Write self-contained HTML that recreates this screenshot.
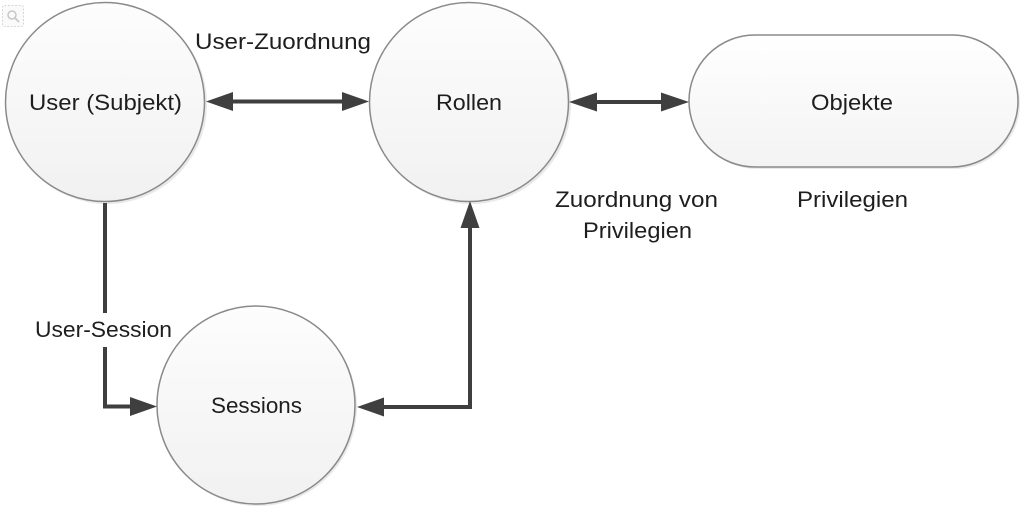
<!DOCTYPE html>
<html>
<head>
<meta charset="utf-8">
<style>
  html, body { margin: 0; padding: 0; background: #ffffff; }
  body { width: 1024px; height: 519px; overflow: hidden; }
  svg { display: block; }
  text { font-family: "Liberation Sans", "DejaVu Sans", sans-serif; fill: #1e1e1e; font-size: 22px; }
</style>
</head>
<body>
<svg width="1024" height="519" viewBox="0 0 1024 519" xmlns="http://www.w3.org/2000/svg">
  <defs>
    <linearGradient id="g" x1="0" y1="0" x2="0" y2="1">
      <stop offset="0" stop-color="#fdfdfd"/>
      <stop offset="1" stop-color="#f1f1f1"/>
    </linearGradient>
    <linearGradient id="g2" x1="0" y1="0" x2="0" y2="1">
      <stop offset="0" stop-color="#ffffff"/>
      <stop offset="1" stop-color="#f3f3f3"/>
    </linearGradient>
  </defs>

  <!-- magnifier icon -->
  <rect x="2.5" y="5.5" width="21" height="21" rx="2" fill="#fafafa" stroke="#d6d6d6" stroke-dasharray="2 1.5"/>
  <circle cx="12" cy="15" r="4" fill="none" stroke="#c8c8c8" stroke-width="1.5"/>
  <line x1="15" y1="18" x2="19" y2="22" stroke="#c8c8c8" stroke-width="1.8"/>

  <!-- shadows -->
  <circle cx="107" cy="104" r="100" fill="#e9e9e9"/>
  <circle cx="471" cy="104" r="100" fill="#e9e9e9"/>
  <circle cx="258" cy="407" r="99" fill="#e9e9e9"/>
  <rect x="691" y="37" width="329" height="132" rx="66" ry="66" fill="#e9e9e9"/>

  <!-- nodes -->
  <circle cx="105" cy="102" r="99.5" fill="url(#g)" stroke="#8a8a8a" stroke-width="1.5"/>
  <circle cx="469" cy="102" r="99.5" fill="url(#g)" stroke="#8a8a8a" stroke-width="1.5"/>
  <circle cx="256" cy="405" r="99" fill="url(#g)" stroke="#8a8a8a" stroke-width="1.5"/>
  <rect x="689" y="35" width="329" height="132" rx="66" ry="66" fill="url(#g2)" stroke="#8a8a8a" stroke-width="1.5"/>

  <!-- connectors -->
  <g stroke="#3f3f3f" stroke-width="4" fill="none">
    <line x1="230" y1="101.5" x2="345" y2="101.5"/>
    <line x1="594" y1="102" x2="664" y2="102"/>
    <polyline points="105,203 105,313"/>
    <polyline points="105,347 105,406.5 133,406.5"/>
    <polyline points="381,407 470,407 470,226"/>
  </g>
  <g fill="#3f3f3f">
    <polygon points="206,101.5 233,92 233,111"/>
    <polygon points="369,101.5 342,92 342,111"/>
    <polygon points="569,102 597,92.5 597,111.5"/>
    <polygon points="689,102 661,92.5 661,111.5"/>
    <polygon points="157,406.5 130,397 130,416"/>
    <polygon points="357,407 384,397.5 384,416.5"/>
    <polygon points="470,201 460.5,228 479.5,228"/>
  </g>

  <!-- labels -->
  <text x="29" y="110" textLength="153" lengthAdjust="spacingAndGlyphs">User (Subjekt)</text>
  <text x="436" y="110" textLength="66" lengthAdjust="spacingAndGlyphs">Rollen</text>
  <text x="811" y="110" textLength="82" lengthAdjust="spacingAndGlyphs">Objekte</text>
  <text x="211" y="413" textLength="91" lengthAdjust="spacingAndGlyphs">Sessions</text>

  <text x="195" y="49" textLength="176" lengthAdjust="spacingAndGlyphs">User-Zuordnung</text>
  <text x="35" y="337" textLength="137" lengthAdjust="spacingAndGlyphs">User-Session</text>
  <text x="555" y="207" textLength="163" lengthAdjust="spacingAndGlyphs">Zuordnung von</text>
  <text x="583" y="238" textLength="109" lengthAdjust="spacingAndGlyphs">Privilegien</text>
  <text x="797" y="207" textLength="111" lengthAdjust="spacingAndGlyphs">Privilegien</text>
</svg>
</body>
</html>
